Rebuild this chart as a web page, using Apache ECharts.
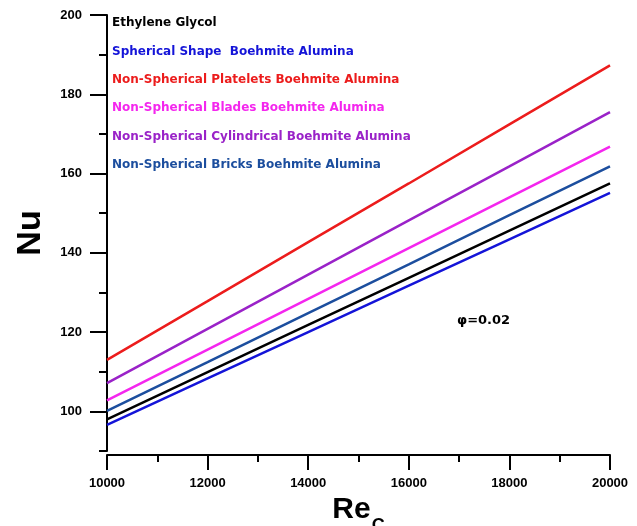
<!DOCTYPE html>
<html>
<head>
<meta charset="utf-8">
<script src="https://cdn.jsdelivr.net/npm/echarts@6/dist/echarts.min.js"></script>
<style>html,body{margin:0;padding:0;background:#fff;}#c{width:637px;height:526px;}</style>
</head>
<body>
<div id="c"></div>
<script>
const reValues = [10000, 12000, 14000, 16000, 18000, 20000];
const ethyleneGlycol = [98.0, 109.9, 121.8, 133.7, 145.6, 157.5];
const spherical = [96.6, 108.3, 120.0, 131.7, 143.4, 155.1];
const platelets = [113.0, 127.8, 142.7, 157.5, 172.4, 187.3];
const blades = [102.8, 115.6, 128.4, 141.2, 154.0, 166.8];
const cylindrical = [107.1, 120.8, 134.5, 148.2, 161.8, 175.5];
const bricks = [100.1, 112.4, 124.8, 137.1, 149.5, 161.8];
const yMajorTicks = [100, 120, 140, 160, 180, 200];

const names = [
  'Ethylene Glycol',
  'Spherical Shape  Boehmite Alumina',
  'Non-Spherical Platelets Boehmite Alumina',
  'Non-Spherical Blades Boehmite Alumina',
  'Non-Spherical Cylindrical Boehmite Alumina',
  'Non-Spherical Bricks Boehmite Alumina'
];
const colors = ['#000000', '#1414d8', '#ec1c1c', '#f426ee', '#9a22c8', '#1c4e9e'];
const values = [ethyleneGlycol, spherical, platelets, blades, cylindrical, bricks];

const font = 'Arial, "Liberation Sans", sans-serif';
const chart = echarts.init(document.getElementById('c'));

const series = names.map((n, i) => ({
  name: n,
  type: 'line',
  data: reValues.map((x, j) => [x, values[i][j]]),
  showSymbol: false,
  symbol: 'none',
  lineStyle: { color: colors[i], width: 2.5 },
  itemStyle: { color: colors[i] },
  z: 10 - i
}));

chart.setOption({
  animation: false,
  backgroundColor: '#ffffff',
  grid: { left: 107, right: 27, top: 15, bottom: 75, containLabel: false, outerBoundsMode: 'none' },
  legend: {
    orient: 'vertical',
    left: 102,
    top: 11,
    itemGap: 15.4,
    itemWidth: 0,
    itemHeight: 14,
    icon: 'none',
    selectedMode: false,
    textStyle: { fontFamily: '"DejaVu Sans", Verdana, sans-serif', fontWeight: 'bold', fontSize: 12 },
    data: names.map((n, i) => ({ name: n, icon: 'none', textStyle: { color: colors[i] } }))
  },
  xAxis: {
    type: 'value',
    min: 10000,
    max: 20000,
    interval: 2000,
    offset: 4,
    name: '{a|Re}{b|C}',
    nameLocation: 'middle',
    nameGap: 35,
    nameTextStyle: {
      rich: {
        a: { fontFamily: font, fontWeight: 'bold', fontSize: 30, color: '#000', lineHeight: 30, padding: [0, 0, 10, 0], verticalAlign: 'bottom' },
        b: { fontFamily: font, fontWeight: 'bold', fontSize: 18, color: '#000', lineHeight: 18, padding: [16, 0, 0, 1], verticalAlign: 'bottom' }
      }
    },
    axisLine: { show: true, lineStyle: { color: '#000', width: 2 } },
    axisTick: { show: true, inside: false, length: 15, lineStyle: { color: '#000', width: 2 } },
    minorTick: { show: true, splitNumber: 2, length: 7, lineStyle: { color: '#000', width: 2 } },
    axisLabel: { fontFamily: font, fontWeight: 'bold', fontSize: 13, color: '#000', margin: 22, formatter: v => String(v) },
    splitLine: { show: false },
    minorSplitLine: { show: false }
  },
  yAxis: [
    {
      type: 'value',
      min: 90,
      max: 200,
      interval: 10,
      name: 'Nu',
      nameLocation: 'middle',
      nameGap: 59,
      nameRotate: 90,
      nameTextStyle: { fontFamily: font, fontWeight: 'bold', fontSize: 34, color: '#000' },
      axisLine: { show: true, lineStyle: { color: '#000', width: 2 } },
      axisTick: { show: true, length: 8, lineStyle: { color: '#000', width: 2 } },
      axisLabel: { show: false },
      splitLine: { show: false }
    },
    {
      type: 'value',
      min: 90,
      max: 200,
      position: 'left',
      axisLine: { show: false },
      axisTick: { show: true, length: 17, customValues: yMajorTicks, lineStyle: { color: '#000', width: 2 } },
      axisLabel: { show: true, customValues: yMajorTicks, fontFamily: font, fontWeight: 'bold', fontSize: 13, color: '#000', margin: 25 },
      splitLine: { show: false }
    }
  ],
  graphic: [
    {
      type: 'text',
      left: 457,
      top: 314,
      style: { text: 'φ=0.02', font: 'bold 13px "DejaVu Sans", sans-serif', fill: '#000' }
    }
  ],
  series: series
});
</script>
</body>
</html>
